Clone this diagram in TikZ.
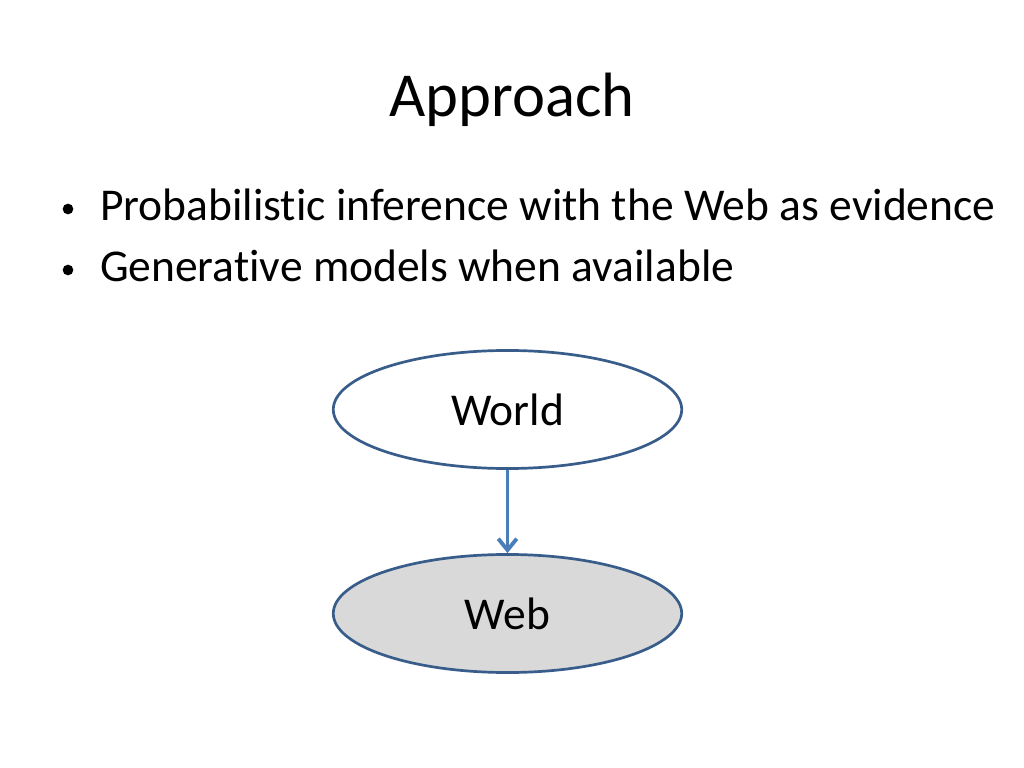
\documentclass[tikz,border=0pt]{standalone}
\usepackage{fontspec}
\setmainfont{Carlito}[Ligatures=NoCommon]
\usepackage{xcolor}
\usetikzlibrary{arrows.meta,shapes.geometric}

\definecolor{nodeline}{HTML}{385D8A}
\definecolor{arrowline}{HTML}{4A7EBB}
\definecolor{webfill}{HTML}{D9D9D9}

\tikzset{
    varnode/.style={ellipse, draw=nodeline, line width=1.9pt, minimum width=245pt, minimum height=83pt, font=\fontsize{32}{38}\selectfont},
    bullettext/.style={anchor=base west, font=\fontsize{32}{38}\selectfont},
    bulletdot/.style={circle, fill=black, inner sep=0pt, minimum size=7.5pt},
    dependson/.style={-{Straight Barb[length=8pt,width=13pt]}, arrowline, line width=2.7pt}
}

\begin{document}
\begin{tikzpicture}[x=0.703125pt,y=-0.703125pt]
        %CANVAS
        \useasboundingbox[fill=white] (0,0) rectangle (1024,768);

        %TITLE
        \node[anchor=base, font=\fontsize{44}{53}\selectfont] (title) at (512,117) {Approach};

        %BULLETS
        \node[bulletdot] (dotA) at (68,209) {};
        \node[bullettext] (lineA) at (95,221) {Probabilistic inference with the Web as evidence};
        \node[bulletdot] (dotB) at (68,270) {};
        \node[bullettext] (lineB) at (95,282) {Generative models when available};

        %NODES
        \node[varnode, fill=white] (world) at (507.5,409.5) {World};
        \node[varnode, fill=webfill] (web) at (507.5,613.5) {Web};

        %EDGE
        \draw[dependson] (world) -- (web);
    \end{tikzpicture}
\end{document}
